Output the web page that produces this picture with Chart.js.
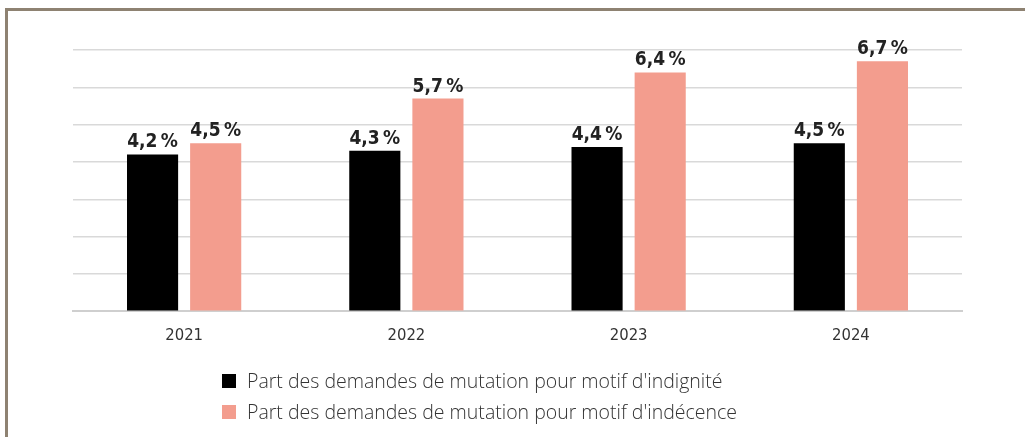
<!DOCTYPE html>
<html lang="fr">
<head>
<meta charset="utf-8">
<title>Demandes de mutation</title>
<script src="https://cdn.jsdelivr.net/npm/chart.js@4/dist/chart.umd.min.js"></script>
<style>
    html, body { margin: 0; padding: 0; background: #fff; }
    #wrap { position: relative; width: 1025px; height: 437px; overflow: hidden; }
    #cadre {
        position: absolute; left: 5px; top: 8px; right: -10px; bottom: -10px;
        border-left: 3px solid #8e8272; border-top: 3px solid #8e8272;
    }
    #graph { position: absolute; left: 0; top: 0; }
    #legende {
        position: absolute; left: 222px; top: 365px;
        font-family: "Open Sans", sans-serif; font-weight: 300; font-size: 19.5px; color: #333;
    }
    #legende div { display: flex; align-items: center; height: 31px; }
    #legende span.carre { display: inline-block; width: 14px; height: 14px; margin-right: 11px; }
</style>
</head>
<body>
<div id="wrap">
    <div id="cadre"></div>
    <canvas id="graph" width="1025" height="437"></canvas>
    <div id="legende"></div>
</div>
<script>
const annees = ['2021', '2022', '2023', '2024'];
const indignite = [4.2, 4.3, 4.4, 4.5];
const indecence = [4.5, 5.7, 6.4, 6.7];
const nomsSeries = [
    "Part des demandes de mutation pour motif d'indignité",
    "Part des demandes de mutation pour motif d'indécence"
];
const couleurs = ['#000000', '#f39d8e'];

// valeurs au-dessus des barres, format français
const etiquettes = {
    id: 'etiquettes',
    afterDatasetsDraw(chart) {
        const ctx = chart.ctx;
        ctx.save();
        ctx.font = 'bold 19px "DejaVu Sans Condensed", sans-serif';
        ctx.fillStyle = '#222';
        ctx.textAlign = 'center';
        ctx.textBaseline = 'alphabetic';
        chart.data.datasets.forEach(function (ds, i) {
            chart.getDatasetMeta(i).data.forEach(function (bar, j) {
                const txt = ds.data[j].toFixed(1).replace('.', ',') + '\u202f%';
                ctx.fillText(txt, bar.x, bar.y - 7);
            });
        });
        ctx.restore();
    }
};

const data = {
    labels: annees,
    datasets: [
        { label: nomsSeries[0], data: indignite, backgroundColor: couleurs[0] },
        { label: nomsSeries[1], data: indecence, backgroundColor: couleurs[1] }
    ]
};

const config = {
    type: 'bar',
    data: data,
    options: {
        responsive: false,
        animation: false,
        layout: { padding: { left: 73, right: 63, top: 50, bottom: 84 } },
        datasets: {
            bar: { categoryPercentage: 0.568, barPercentage: 0.81 }
        },
        plugins: {
            legend: { display: false },
            tooltip: { enabled: false }
        },
        scales: {
            x: {
                grid: { display: false },
                border: { display: true, color: '#cfcfcf', width: 2 },
                ticks: {
                    color: '#333',
                    padding: 7,
                    font: { family: '"DejaVu Sans Condensed", sans-serif', size: 16.5, weight: 300 }
                }
            },
            y: {
                min: 0, max: 7,
                afterFit: function (s) { s.width = 0; },
                ticks: { display: false, stepSize: 1 },
                border: { display: false },
                grid: { color: '#d9d9d9', lineWidth: 1.5, drawTicks: false }
            }
        }
    },
    plugins: [etiquettes]
};

const ctx = document.getElementById('graph').getContext('2d');
const chart = new Chart(ctx, config);

// légende HTML alignée à gauche
const legende = document.getElementById('legende');
chart.data.datasets.forEach(function (ds) {
    const ligne = document.createElement('div');
    ligne.innerHTML = '<span class="carre" style="background:' + ds.backgroundColor + '"></span>' + ds.label;
    legende.appendChild(ligne);
});
</script>
</body>
</html>
